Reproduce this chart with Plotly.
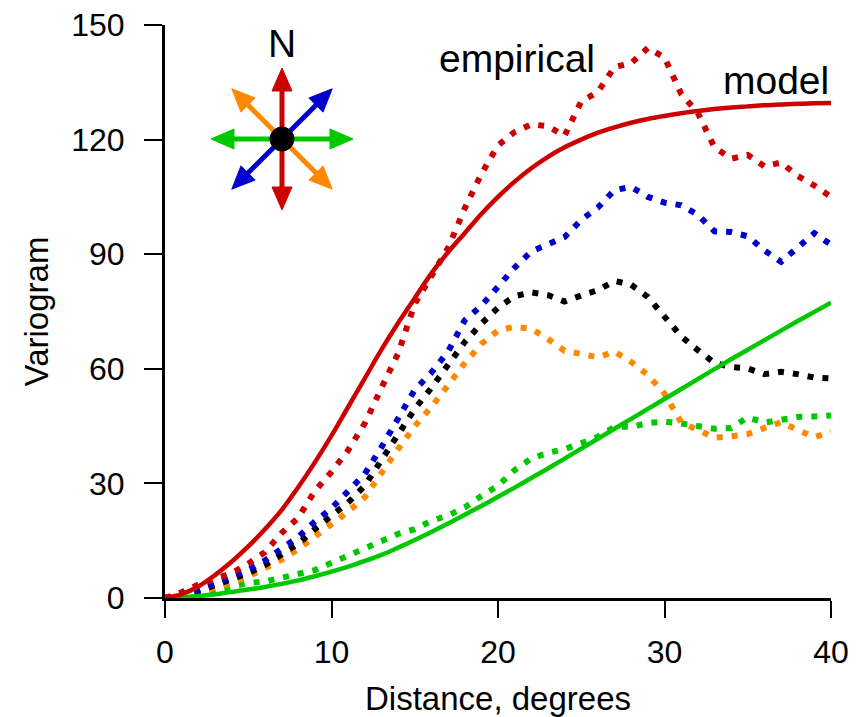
import plotly.graph_objects as go

# ---------------- data ----------------
distance = list(range(0, 41))

red_empirical = [0, 1.5, 3.5, 5, 6.5, 9, 12, 17, 21, 28,
                 33, 38.7, 45.7, 55, 64, 77, 84.5, 91.6, 102, 111,
                 118.5, 122, 124, 123.5, 121, 130, 132.5, 139, 140, 144,
                 141.5, 132, 127, 118, 115, 116, 113, 114, 110.5, 108,
                 105]
blue_empirical = [0, 0.8, 2, 3.8, 5.5, 7.3, 9.8, 12.8, 16, 20,
                  23.5, 28, 32.5, 39.5, 47, 54.5, 59, 64.5, 72.7, 76.5,
                  81.5, 86.5, 90.7, 92.5, 94.5, 99, 102.2, 106.8, 107.6, 105,
                  103.5, 102.8, 100.3, 96, 95.8, 94.7, 91, 88, 91.8, 95.5,
                  92.5]
black_empirical = [0, 0.6, 1.8, 3.3, 4.7, 6.5, 8.6, 11.3, 14.2, 18,
                   21.3, 25, 29.4, 36, 43, 49.5, 55, 61, 67, 71.8,
                   76, 79, 80, 79.3, 77.6, 79.2, 80.6, 83, 82, 78.8,
                   73.8, 68.5, 64.9, 61.5, 60.5, 60.1, 58.6, 59.2, 58.6, 57.7,
                   57.5]
orange_empirical = [0, 0.5, 1.4, 2.6, 4, 5.6, 7.8, 10, 12.8, 16,
                    19, 22.6, 26.4, 33, 39, 45, 50, 55.7, 61.5, 66.5,
                    70, 71, 70.5, 67.8, 64.7, 63.9, 63, 64.5, 61.8, 58.4,
                    53.5, 46, 43.8, 42, 42.3, 42.9, 44.5, 46, 44, 42.1,
                    43.5]
green_empirical = [0, 0.5, 1.2, 2, 3, 3.9, 4.3, 5.3, 6.2, 7.3,
                   9.2, 11.2, 12.9, 15.2, 16.8, 18, 20.2, 21.6, 23.7, 26.7,
                   29.4, 33.5, 36.5, 38, 39, 40.5, 42.2, 44.8, 44.8, 45.8,
                   46.2, 45.7, 45, 44.3, 44.5, 47.3, 45.9, 46.8, 47.4, 47.5,
                   47.8]
red_model = [0, 1, 3, 6, 9.5, 13.5, 18, 23, 29, 35.5,
             42.5, 50, 57.5, 65, 72, 78.5, 85, 90.5, 95.5, 100.5,
             105, 109, 112.5, 115.5, 118, 120, 121.8, 123.2, 124.4, 125.4,
             126.2, 126.9, 127.5, 128, 128.4, 128.7, 129, 129.2, 129.4, 129.5,
             129.6]
green_model = [0, 0.15, 0.5, 1.0, 1.6, 2.2, 2.9, 3.7, 4.6, 5.7,
               6.9, 8.2, 9.7, 11.3, 13.2, 15.2, 17.3, 19.5, 21.8, 24.1,
               26.5, 28.9, 31.4, 33.9, 36.5, 39.1, 41.7, 44.3, 46.9, 49.5,
               52.1, 54.7, 57.3, 59.9, 62.5, 65, 67.5, 70, 72.5, 74.9,
               77.3]

x_ticks = [0, 10, 20, 30, 40]
y_ticks = [0, 30, 60, 90, 120, 150]

RED = "#CC0000"
BLUE = "#0000CC"
BLACK = "#000000"
ORANGE = "#FF8800"
GREEN = "#00C800"

FONT = "Liberation Sans, Arial, Helvetica, sans-serif"

# ---------------- layout geometry ----------------
W, H = 866, 717
ML, MR, MT, MB = 165, 35, 25, 119
PW, PH = W - ML - MR, H - MT - MB


def px(xp):
    return (xp - ML) / PW


def py(yp):
    return (H - MB - yp) / PH


fig = go.Figure()

DOT = "6px,9px"
for ys, col in [(green_empirical, GREEN), (orange_empirical, ORANGE),
                (black_empirical, BLACK), (blue_empirical, BLUE),
                (red_empirical, RED)]:
    fig.add_trace(go.Scatter(x=distance, y=ys, mode="lines",
                             line=dict(color=col, width=6, dash=DOT),
                             hoverinfo="skip"))

for ys, col in [(green_model, GREEN), (red_model, RED)]:
    fig.add_trace(go.Scatter(x=distance, y=ys, mode="lines",
                             line=dict(color=col, width=4.5, shape="spline",
                                       smoothing=1.0),
                             hoverinfo="skip"))

# ---------------- compass ----------------
shapes = []
cx, cy = 282, 139
L_TIP, HEAD_L, HEAD_W = 71, 23, 10
dirs = [((1, 0), GREEN), ((0, 1), RED), ((0.7071, -0.7071), BLUE),
        ((0.7071, 0.7071), ORANGE)]
for (ux, uy), col in dirs:
    lb = L_TIP - HEAD_L + 2
    shapes.append(dict(type="line", xref="paper", yref="paper",
                       x0=px(cx - lb * ux), y0=py(cy - lb * uy),
                       x1=px(cx + lb * ux), y1=py(cy + lb * uy),
                       line=dict(color=col, width=5)))
    for s in (1, -1):
        tx, ty = cx + s * L_TIP * ux, cy + s * L_TIP * uy
        bx, by = cx + s * (L_TIP - HEAD_L) * ux, cy + s * (L_TIP - HEAD_L) * uy
        nx, ny = -uy, ux
        path = "M {:.5f},{:.5f} L {:.5f},{:.5f} L {:.5f},{:.5f} Z".format(
            px(tx), py(ty),
            px(bx + HEAD_W * nx), py(by + HEAD_W * ny),
            px(bx - HEAD_W * nx), py(by - HEAD_W * ny))
        shapes.append(dict(type="path", xref="paper", yref="paper", path=path,
                           fillcolor=col, line=dict(color=col, width=1)))
R = 12
shapes.append(dict(type="circle", xref="paper", yref="paper",
                   x0=px(cx - R), x1=px(cx + R), y0=py(cy + R), y1=py(cy - R),
                   fillcolor="black", line=dict(color="black", width=1)))

annotations = [
    dict(text="N", x=px(282), y=py(43), xref="paper", yref="paper",
         showarrow=False, xanchor="center", yanchor="middle",
         font=dict(size=39, color="black", family=FONT)),
    dict(text="empirical", x=px(517), y=py(59), xref="paper", yref="paper",
         showarrow=False, xanchor="center", yanchor="middle",
         font=dict(size=39, color="black", family=FONT)),
    dict(text="model", x=px(776), y=py(81), xref="paper", yref="paper",
         showarrow=False, xanchor="center", yanchor="middle",
         font=dict(size=39, color="black", family=FONT)),
]

fig.update_layout(
    width=W, height=H,
    margin=dict(l=ML, r=MR, t=MT, b=MB, pad=0),
    paper_bgcolor="white", plot_bgcolor="white",
    showlegend=False,
    font=dict(family=FONT, color="black"),
    shapes=shapes, annotations=annotations,
)
fig.update_xaxes(range=[0, 40], tickvals=x_ticks, ticktext=[str(v) for v in x_ticks],
                 ticks="outside", ticklen=17, tickwidth=2, tickcolor="black",
                 showline=True, linewidth=3, linecolor="black",
                 showgrid=False, zeroline=False,
                 tickfont=dict(size=32, family=FONT, color="black"),
                 ticklabelstandoff=7,
                 title=dict(text="Distance, degrees", standoff=19,
                            font=dict(size=33, family=FONT, color="black")),
                 automargin=False)
fig.update_yaxes(range=[0, 150], tickvals=y_ticks, ticktext=[str(v) for v in y_ticks],
                 ticks="outside", ticklen=18, tickwidth=2, tickcolor="black",
                 showline=True, linewidth=3, linecolor="black",
                 showgrid=False, zeroline=False,
                 tickfont=dict(size=32, family=FONT, color="black"),
                 ticklabelstandoff=13,
                 title=dict(text="Variogram", standoff=13,
                            font=dict(size=33, family=FONT, color="black")),
                 automargin=False)

fig.write_html("out.html", config={"displayModeBar": False},
               post_script="document.body.style.margin='0';")
